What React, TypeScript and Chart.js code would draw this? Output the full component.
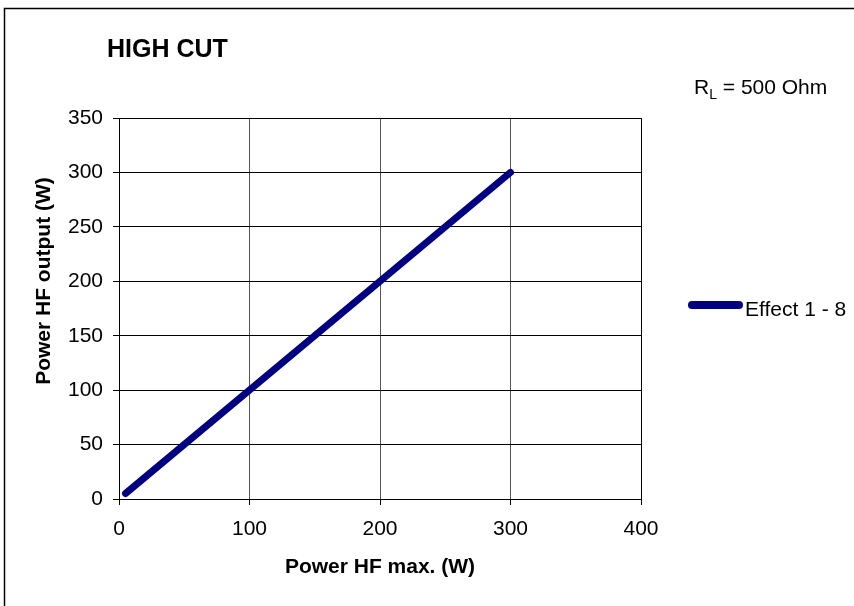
import React, { useEffect, useRef } from "react";
import { Chart, registerables } from "chart.js";

Chart.register(...registerables);

const xValues = [5, 300];
const yValues = [5, 300];
const seriesLabel = "Effect 1 - 8";
const chartTitle = "HIGH CUT";
const xAxisTitle = "Power HF max. (W)";
const yAxisTitle = "Power HF output (W)";
const xRange = [0, 400, 100];
const yRange = [0, 350, 50];

const FONT = "'Liberation Sans', Arial, Helvetica, sans-serif";
const NAVY = "#000080";

const decorPlugin = {
  id: "decor",
  afterDraw(chart: any) {
    const ctx = chart.ctx as CanvasRenderingContext2D;
    ctx.save();
    // outer frame
    ctx.strokeStyle = "#000";
    ctx.lineWidth = 1.5;
    ctx.strokeRect(4.5, 8.5, 900, 700);
    // title
    ctx.fillStyle = "#000";
    ctx.textBaseline = "alphabetic";
    ctx.textAlign = "left";
    ctx.font = `bold 25px ${FONT}`;
    ctx.fillText(chartTitle, 107, 57);
    // R_L = 500 Ohm
    ctx.font = `21px ${FONT}`;
    let x = 694;
    ctx.fillText("R", x, 94);
    x += ctx.measureText("R").width;
    ctx.font = `14px ${FONT}`;
    ctx.fillText("L", x, 99);
    x += ctx.measureText("L").width;
    ctx.font = `21px ${FONT}`;
    ctx.fillText(" = 500 Ohm", x, 94);
    // legend
    ctx.strokeStyle = NAVY;
    ctx.lineWidth = 8;
    ctx.lineCap = "round";
    ctx.beginPath();
    ctx.moveTo(692, 305);
    ctx.lineTo(739, 305);
    ctx.stroke();
    ctx.fillStyle = "#000";
    ctx.font = `21px ${FONT}`;
    ctx.fillText(seriesLabel, 745, 316);
    // y axis title
    ctx.save();
    ctx.translate(44, 281);
    ctx.rotate(-Math.PI / 2);
    ctx.textAlign = "center";
    ctx.textBaseline = "middle";
    ctx.font = `bold 21px ${FONT}`;
    ctx.fillText(yAxisTitle, 0, 0);
    ctx.restore();
    ctx.restore();
  },
};

export default function App() {
  const ref = useRef<HTMLCanvasElement | null>(null);
  useEffect(() => {
    if (!ref.current) return;
    const chart = new Chart(ref.current, {
      type: "line",
      data: {
        datasets: [
          {
            label: seriesLabel,
            data: xValues.map((v, i) => ({ x: v, y: yValues[i] })),
            borderColor: NAVY,
            backgroundColor: NAVY,
            borderWidth: 7,
            borderCapStyle: "round",
            pointRadius: 0,
            tension: 0,
          },
        ],
      },
      options: {
        animation: false,
        responsive: false,
        devicePixelRatio: 1,
        layout: { padding: { left: 0, top: 118, right: 213, bottom: 0 } },
        plugins: { legend: { display: false }, title: { display: false }, tooltip: { enabled: false } },
        scales: {
          x: {
            type: "linear",
            min: xRange[0],
            max: xRange[1],
            afterFit: (s: any) => {
              s.height = 107;
            },
            ticks: {
              stepSize: xRange[2],
              color: "#000",
              font: { family: FONT, size: 21 },
              padding: 12,
              maxRotation: 0,
            },
            grid: {
              color: (c: any) => (c.tick && (c.tick.value === 0 || c.tick.value === 400) ? "#000" : "#555"),
              tickColor: "#000",
              tickLength: 6,
              lineWidth: 1,
            },
            border: { color: "#000", width: 1 },
            title: {
              display: true,
              text: xAxisTitle,
              color: "#000",
              font: { family: FONT, size: 21, weight: "bold" },
              padding: { top: 0, bottom: 26 },
            },
          },
          y: {
            type: "linear",
            min: yRange[0],
            max: yRange[1],
            afterFit: (s: any) => {
              s.width = 119;
            },
            ticks: {
              stepSize: yRange[2],
              color: "#000",
              font: { family: FONT, size: 21 },
              padding: 10,
            },
            grid: {
              color: "#000",
              tickColor: "#000",
              tickLength: 6,
              lineWidth: 1,
            },
            border: { color: "#000", width: 1 },
            title: { display: false },
          },
        },
      },
      plugins: [decorPlugin],
    } as any);
    return () => chart.destroy();
  }, []);
  return (
    <div style={{ position: "fixed", left: 0, top: 0, width: 854, height: 606, background: "#fff" }}>
      <canvas ref={ref} width={854} height={606} style={{ display: "block" }} />
    </div>
  );
}
